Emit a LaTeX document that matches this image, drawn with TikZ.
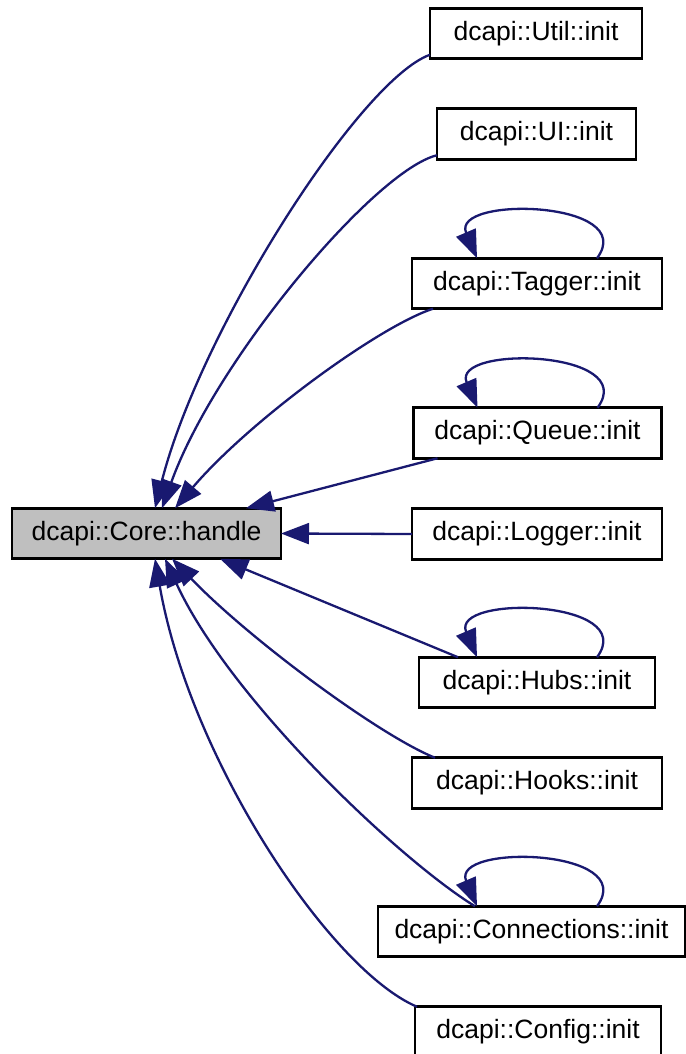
\documentclass[tikz,border=0pt]{standalone}
\usepackage{fontspec}
\setmainfont{Liberation Sans}
\usetikzlibrary{arrows.meta, positioning}
\definecolor{edgeblue}{RGB}{25,25,112}
\definecolor{corefill}{RGB}{191,191,191}

\begin{document}
\begin{tikzpicture}[
  x=1pt, y=-1pt,
  font=\fontsize{26.5}{31}\selectfont,
  box/.style={draw, line width=2.6pt, inner sep=0pt, outer sep=0pt, minimum height=50.5pt},
  corebox/.style={box, fill=corefill},
  arr/.style={draw=edgeblue, line width=2.3pt, -{Triangle[length=28pt,width=21pt]}}
]
\useasboundingbox (0,0) rectangle (685,1054);
\node[corebox, minimum width=269pt] (core) at (146.5,533.5) {dcapi::Core::handle};
\node[box, minimum width=212pt] (util) at (536,33.5) {dcapi::Util::init};
\node[box, minimum width=199pt, below=50pt of util, xshift=0.5pt] (ui) {dcapi::UI::init};
\node[box, minimum width=250pt, below=99pt of ui, xshift=0.5pt] (tagger) {dcapi::Tagger::init};
\node[box, minimum width=248pt, below=99pt of tagger, xshift=0.5pt] (queue) {dcapi::Queue::init};
\node[box, minimum width=250pt, below=50.5pt of queue, xshift=-0.5pt] (logger) {dcapi::Logger::init};
\node[box, minimum width=236pt, below=98pt of logger] (hubs) {dcapi::Hubs::init};
\node[box, minimum width=250pt, below=50pt of hubs] (hooks) {dcapi::Hooks::init};
\node[box, minimum width=307pt, below=98pt of hooks, xshift=-5.5pt] (conn) {dcapi::Connections::init};
\node[box, minimum width=246pt, below=50pt of conn, xshift=6.5pt] (config) {dcapi::Config::init};
% calls above the core
\draw[arr] ([yshift=4pt]util.south west) .. controls +(-70,25) and +(45,-178) .. ([xshift=143pt]core.north west);
\draw[arr] ([yshift=4pt]ui.south west) .. controls +(-62,15) and +(53,-148) .. ([xshift=150pt]core.north west);
\draw[arr] ([xshift=21pt]tagger.south west) .. controls +(-53,17) and +(75,-88) .. ([xshift=163pt]core.north west);
\draw[arr] ([xshift=24pt]queue.south west) -- ([xshift=234pt]core.north west);
\draw[arr] (logger.west) -- (core.east);
% calls below the core
\draw[arr] ([xshift=39pt]hubs.north west) -- ([xshift=208pt]core.south west);
\draw[arr] ([xshift=23pt]hooks.north west) .. controls +(-55,-22) and +(78,81) .. ([xshift=160pt]core.south west);
\draw[arr] ([xshift=97pt]conn.north west) .. controls +(-75,-46) and +(65,141) .. ([xshift=153pt]core.south west);
\draw[arr] ([xshift=2pt]config.north west) .. controls +(-87,-37) and +(35,201) .. ([xshift=143pt]core.south west);
% recursive calls
\draw[arr] ([xshift=60pt]tagger.north) .. controls +(43,-58) and +(-27,-63) .. ([xshift=-60pt]tagger.north);
\draw[arr] ([xshift=60pt]queue.north) .. controls +(43,-58) and +(-27,-63) .. ([xshift=-60pt]queue.north);
\draw[arr] ([xshift=60pt]hubs.north) .. controls +(43,-58) and +(-27,-63) .. ([xshift=-60pt]hubs.north);
\draw[arr] ([xshift=65.5pt]conn.north) .. controls +(43,-58) and +(-27,-63) .. ([xshift=-54.5pt]conn.north);
\end{tikzpicture}
\end{document}
